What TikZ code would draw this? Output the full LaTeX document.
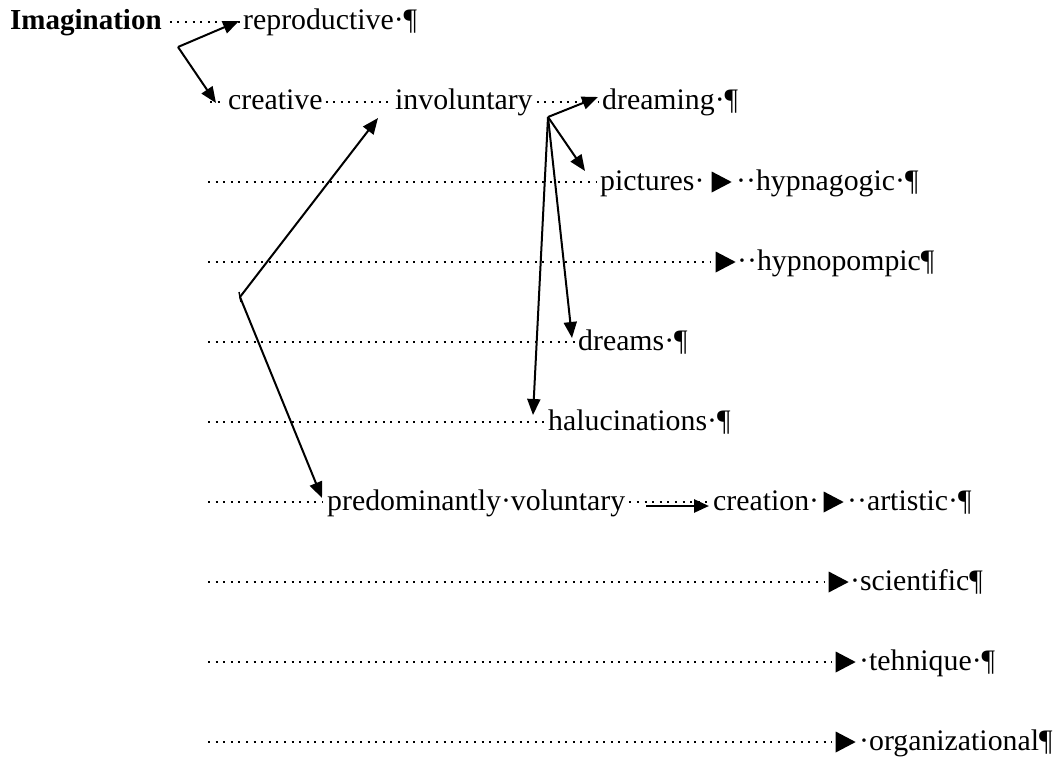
\documentclass[tikz,border=0pt]{standalone}
\usepackage{fontspec}
\setmainfont{Liberation Serif}
\usetikzlibrary{arrows.meta,shapes.geometric}
\begin{document}
\begin{tikzpicture}[x=1pt,y=-1pt,
  lbl/.style={anchor=base west,inner sep=0pt,font=\fontsize{29.8}{36}\selectfont},
  lead/.style={line width=2pt,dash pattern=on 2pt off 5.6pt},
  arr/.style={line width=2pt,-{Triangle[length=16pt,width=13pt]}},
  dbl/.style={line width=2.6pt,-{Triangle[length=15pt,width=13pt]}},
  tri/.style={isosceles triangle,isosceles triangle stretches,fill=black,draw=none,inner sep=0pt,minimum width=21pt,minimum height=20pt}]
\fill[white] (0,0) rectangle (1059,757);
\useasboundingbox (0,0) rectangle (1059,757);

% row 1
\node[lbl,font=\fontsize{29}{36}\selectfont\bfseries] (imag) at (10,30) {Imagination};
\node[lbl] (repro) at (243,30) {reproductive·¶};
\draw[lead] ([xshift=8pt,yshift=8pt]imag.base east) -- ([xshift=-3pt,yshift=8pt]repro.base west);

% row 2
\node[lbl] (creat) at (228,110) {creative};
\node[lbl] (invol) at (395,110) {involuntary};
\node[lbl] (dream) at (602,110) {dreaming·¶};
\coordinate (s2) at (210,102);
\draw[lead] (s2) -- ([xshift=-3pt,yshift=8pt]creat.base west);
\draw[lead] ([xshift=3pt,yshift=8pt]creat.base east) -- ([xshift=-2pt,yshift=8pt]invol.base west);
\draw[lead] ([xshift=4pt,yshift=8pt]invol.base east) -- ([xshift=-3pt,yshift=8pt]dream.base west);

% row 3
\coordinate (s3) at (208,182);
\node[lbl] (pict) at (600,190) {pictures·};
\node[tri] (t3) at (718,182) {};
\node[lbl] (hgog) at (736,190) {··hypnagogic·¶};
\draw[lead] (s3) -- ([xshift=-4pt,yshift=8pt]pict.base west);

% row 4
\coordinate (s4) at (208,262);
\node[tri] (t4) at (722,262) {};
\node[lbl] (hpomp) at (737,270) {··hypnopompic¶};
\draw[lead] (s4) -- ([xshift=-4pt]t4.west);

% row 5
\coordinate (s5) at (208,342);
\node[lbl] (dreams) at (578,350) {dreams·¶};
\draw[lead] (s5) -- ([xshift=-3pt,yshift=8pt]dreams.base west);

% row 6
\coordinate (s6) at (208,422);
\node[lbl] (halu) at (548,430) {halucinations·¶};
\draw[lead] (s6) -- ([xshift=-3pt,yshift=8pt]halu.base west);

% row 7
\coordinate (s7) at (208,502);
\node[lbl] (predom) at (327,510) {predominantly·voluntary};
\node[lbl] (creation) at (713,510) {creation·};
\node[tri] (t7) at (830,502) {};
\node[lbl] (art) at (847,510) {··artistic·¶};
\draw[lead] (s7) -- ([xshift=-4pt,yshift=8pt]predom.base west);
\draw[lead] ([xshift=4pt,yshift=8pt]predom.base east) -- ([xshift=-3pt,yshift=8pt]creation.base west);
\draw[dbl] ([xshift=-67pt,yshift=4pt]creation.base west) -- ([xshift=-4pt,yshift=4pt]creation.base west);

% row 8
\coordinate (s8) at (208,582);
\node[tri] (t8) at (835,582) {};
\node[lbl] (sci) at (850,590) {·scientific¶};
\draw[lead] (s8) -- ([xshift=-4pt]t8.west);

% row 9
\coordinate (s9) at (208,662);
\node[tri] (t9) at (842,662) {};
\node[lbl] (teh) at (859,670) {·tehnique·¶};
\draw[lead] (s9) -- ([xshift=-4pt]t9.west);

% row 10
\coordinate (s10) at (208,742);
\node[tri] (t10) at (842,742) {};
\node[lbl] (org) at (859,750) {·organizational¶};
\draw[lead] (s10) -- ([xshift=-4pt]t10.west);

% arrows
\coordinate (j1) at (178,47);
\draw[arr] (j1) -- ([xshift=-4pt,yshift=9pt]repro.base west);
\draw[arr] (j1) -- ([xshift=-12pt,yshift=7pt]creat.base west);

\coordinate (j2) at (548,117);
\draw[arr] (j2) -- ([xshift=-4pt,yshift=13pt]dream.base west);
\draw[arr] (j2) -- ([xshift=-15pt,yshift=19pt]pict.base west);
\draw[arr] (j2) -- ([xshift=-6pt,yshift=12pt]dreams.base west);
\draw[arr] (j2) -- ([xshift=-15pt,yshift=15pt]halu.base west);

\coordinate (j3) at (240,297);
\draw[arr] (j3) -- ([xshift=-17pt,yshift=-8pt]invol.base west);
\draw[arr] (j3) -- ([xshift=-5pt,yshift=12pt]predom.base west);
\draw[line width=1.4pt] (239,292) -- (241,302);
\end{tikzpicture}
\end{document}
